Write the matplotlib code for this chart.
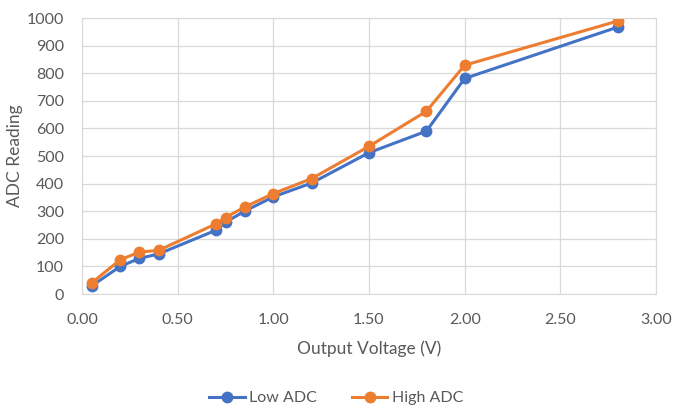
import matplotlib
matplotlib.use("Agg")
import matplotlib.pyplot as plt

plt.rcParams['font.family'] = ['Lato', 'DejaVu Sans']

voltage = [0.05, 0.2, 0.3, 0.4, 0.7, 0.75, 0.85, 1.0, 1.2, 1.5, 1.8, 2.0, 2.8]
low_adc = [29, 100, 129, 145, 231, 260, 300, 352, 402, 512, 590, 781, 967]
high_adc = [40, 124, 152, 158, 254, 277, 315, 364, 418, 535, 662, 829, 989]

fig = plt.figure(figsize=(6.73, 4.12), dpi=100)
ax = fig.add_axes([82/673, 1 - 294/412, (656-82)/673, (294-18)/412])

ax.plot(voltage, low_adc, color='#4472C4', lw=2.2, marker='o', ms=7.5, label='Low ADC')
ax.plot(voltage, high_adc, color='#ED7D31', lw=2.2, marker='o', ms=7.5, label='High ADC')

ax.set_xlim(0, 3)
ax.set_ylim(0, 1000)
ax.set_xticks([0, 0.5, 1, 1.5, 2, 2.5, 3])
ax.set_xticklabels(['0.00', '0.50', '1.00', '1.50', '2.00', '2.50', '3.00'])
ax.set_yticks(range(0, 1001, 100))
ax.grid(True, color='#D9D9D9', lw=0.9)
ax.set_axisbelow(True)
for s in ax.spines.values():
    s.set_color('#D9D9D9')
ax.tick_params(length=0, labelsize=11.5, colors='#595959')
ax.tick_params(axis='x', pad=14)
ax.tick_params(axis='y', pad=13)

ax.set_xlabel('Output Voltage (V)', fontsize=12.5, color='#595959', labelpad=9)
ax.set_ylabel('ADC Reading', fontsize=12.5, color='#595959')
ax.yaxis.set_label_coords((23 - 82) / 574, 0.5)

fig.legend(loc='center', bbox_to_anchor=(0.5, 1 - 398/412), ncol=2, frameon=False,
           fontsize=11.5, labelcolor='#595959', handlelength=2.2, handletextpad=0.3,
           columnspacing=2.2)

fig.savefig('out.png', dpi=100)
